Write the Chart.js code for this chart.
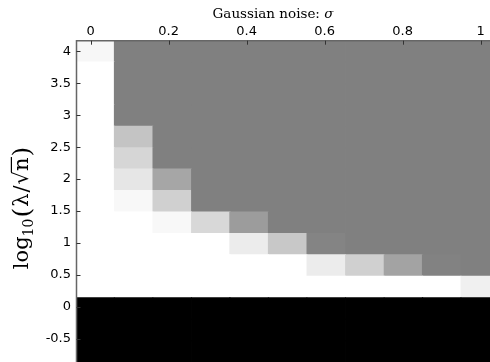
<!DOCTYPE html>
<html lang="en">
<head>
  <meta charset="UTF-8">
  <title>Gaussian noise vs lambda</title>
  <style>
    html, body {
      margin: 0;
      padding: 0;
      background: #fff;
    }

    #wrap {
      width: 490px;
      height: 362px;
    }
  </style>
</head>
<body>
  <div id="wrap"><canvas id="chart" width="490" height="362"></canvas></div>
  <script src="https://cdn.jsdelivr.net/npm/chart.js@4.4.1/dist/chart.umd.min.js"></script>
  <script>
    // column centres: noise level sigma
    const sigma = [0.011, 0.110, 0.209, 0.308, 0.406, 0.505, 0.604, 0.703, 0.802, 0.900, 0.999]
    // row centres: log10(lambda / sqrt(n)), bottom row first
    const logLambda = [-0.7, -0.364, -0.029, 0.307, 0.643, 0.979, 1.314, 1.65, 1.986, 2.321, 2.657, 2.993, 3.329, 3.664, 4.0]
    // grey level per cell (0 black .. 255 white), one row per logLambda entry
    const grey = [
      [0, 0, 0, 0, 0, 0, 0, 0, 0, 0, 0],
      [0, 0, 0, 0, 0, 0, 0, 0, 0, 0, 0],
      [0, 0, 0, 0, 0, 0, 0, 0, 0, 0, 0],
      [255, 255, 255, 255, 255, 255, 255, 255, 255, 255, 240],
      [255, 255, 255, 255, 255, 255, 236, 208, 163, 130, 128],
      [255, 255, 255, 255, 236, 200, 132, 128, 128, 128, 128],
      [255, 255, 248, 216, 156, 128, 128, 128, 128, 128, 128],
      [255, 248, 208, 128, 128, 128, 128, 128, 128, 128, 128],
      [255, 230, 166, 128, 128, 128, 128, 128, 128, 128, 128],
      [255, 214, 128, 128, 128, 128, 128, 128, 128, 128, 128],
      [255, 196, 128, 128, 128, 128, 128, 128, 128, 128, 128],
      [255, 128, 128, 128, 128, 128, 128, 128, 128, 128, 128],
      [255, 128, 128, 128, 128, 128, 128, 128, 128, 128, 128],
      [255, 128, 128, 128, 128, 128, 128, 128, 128, 128, 128],
      [247, 128, 128, 128, 128, 128, 128, 128, 128, 128, 128]
    ]
    const xTicks = [0, 0.2, 0.4, 0.6, 0.8, 1]
    const yTicks = [-0.5, 0, 0.5, 1, 1.5, 2, 2.5, 3, 3.5, 4]

    const rowH = logLambda[1] - logLambda[0]
    const datasets = logLambda.map((c, r) => ({
      label: String(c),
      data: sigma.map(s => ({ x: s, y: [c - rowH / 2, c + rowH / 2] })),
      backgroundColor: grey[r].map(g => `rgb(${g},${g},${g})`),
      borderWidth: 0,
      inflateAmount: 0.6,
      grouped: false,
      barPercentage: 1,
      categoryPercentage: 1,
      clip: 0
    }))

    // axis lines, inward tick marks and the two titles
    const frame = {
      id: 'frame',
      afterDatasetsDraw(chart) {
        const { ctx, chartArea: a, scales: { x, y } } = chart
        ctx.save()
        ctx.strokeStyle = '#666'
        ctx.lineWidth = 1.5
        ctx.beginPath()
        ctx.moveTo(a.left, a.bottom)
        ctx.lineTo(a.left, a.top)
        ctx.lineTo(a.right, a.top)
        ctx.stroke()

        ctx.strokeStyle = '#333'
        ctx.lineWidth = 1
        ctx.beginPath()
        xTicks.forEach(v => {
          const px = Math.round(x.getPixelForValue(v)) + 0.5
          ctx.moveTo(px, a.top)
          ctx.lineTo(px, a.top + 4)
        })
        yTicks.forEach(v => {
          const py = Math.round(y.getPixelForValue(v)) + 0.5
          ctx.moveTo(a.left, py)
          ctx.lineTo(a.left + 4, py)
        })
        ctx.stroke()

        // top title
        ctx.fillStyle = '#000'
        ctx.textBaseline = 'alphabetic'
        const plain = 'Gaussian noise: '
        ctx.font = '13.5px "DejaVu Serif"'
        const w1 = ctx.measureText(plain).width
        ctx.font = 'italic 13.5px "DejaVu Serif"'
        const w2 = ctx.measureText('σ').width
        const tx = 273 - (w1 + w2) / 2
        ctx.font = '13.5px "DejaVu Serif"'
        ctx.fillText(plain, tx, 18)
        ctx.font = 'italic 13.5px "DejaVu Serif"'
        ctx.fillText('σ', tx + w1, 18)

        // left title: log10(lambda / sqrt(n)), rotated
        const parts = [
          { t: 'log', f: 21, dy: 0, gap: 0 },
          { t: '10', f: 14, dy: 5, gap: 1 },
          { t: '(', f: 25, dy: 2, gap: 1 },
          { t: 'λ', f: 21, dy: 0, gap: 1 },
          { t: '/', f: 21, dy: 0, gap: 1 },
          { t: '√', f: 21, dy: 0, gap: 0 },
          { t: 'n', f: 21, dy: 0, gap: 1, bar: true },
          { t: ')', f: 25, dy: 2, gap: 0 }
        ]
        let total = 0
        parts.forEach(p => {
          ctx.font = p.f + 'px "DejaVu Serif"'
          p.w = ctx.measureText(p.t).width
          total += p.w + p.gap
        })
        ctx.translate(28, 208)
        ctx.rotate(-Math.PI / 2)
        let px = -total / 2
        parts.forEach(p => {
          ctx.font = p.f + 'px "DejaVu Serif"'
          ctx.fillText(p.t, px, p.dy)
          if (p.bar) {
            ctx.fillRect(px - 1, -17.2, p.w + 1.5, 1.2)
          }
          px += p.w + p.gap
        })
        ctx.restore()
      }
    }

    const tickFont = { family: 'DejaVu Sans', size: 13 }
    new Chart(document.getElementById('chart'), {
      type: 'bar',
      data: { datasets },
      options: {
        responsive: false,
        animation: false,
        devicePixelRatio: 1,
        layout: { padding: 0 },
        plugins: {
          legend: { display: false },
          tooltip: { enabled: false }
        },
        scales: {
          x: {
            type: 'linear',
            position: 'top',
            min: -0.0364,
            max: 1.024,
            offset: false,
            grid: { display: false, drawTicks: false },
            border: { display: false },
            afterBuildTicks: s => { s.ticks = xTicks.map(v => ({ value: v })) },
            afterFit: s => {
              s.height = 40.7
              s.paddingLeft = 0
              s.paddingRight = 0
            },
            ticks: { color: '#000', font: tickFont, padding: 1, maxRotation: 0, callback: v => String(v) }
          },
          y: {
            type: 'linear',
            min: -0.867,
            max: 4.168,
            grid: { display: false, drawTicks: false },
            border: { display: false },
            afterBuildTicks: s => { s.ticks = yTicks.map(v => ({ value: v })) },
            afterFit: s => {
              s.width = 76.5
              s.paddingTop = 0
              s.paddingBottom = 0
            },
            ticks: { color: '#000', font: tickFont, padding: 5.5, callback: v => String(v) }
          }
        }
      },
      plugins: [frame]
    })
  </script>
</body>
</html>
